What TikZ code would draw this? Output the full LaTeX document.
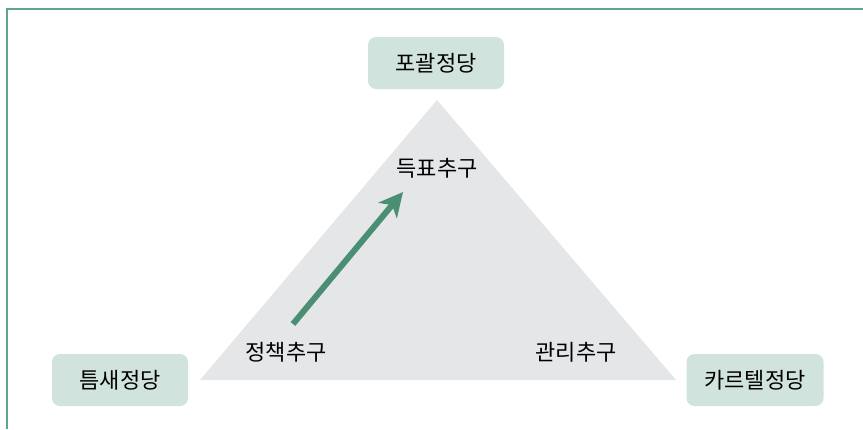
\documentclass[tikz,border=0pt]{standalone}
\usepackage{fontspec}
\setmainfont{Noto Sans CJK KR}
\usepackage{xcolor}
\usetikzlibrary{arrows.meta}

\definecolor{marco}{HTML}{5FA58A}
\definecolor{cajaverde}{HTML}{D1E3DD}
\definecolor{gristri}{HTML}{E5E6E8}
\definecolor{flecha}{HTML}{4A8E74}

\tikzset{
  partido/.style={fill=cajaverde, rounded corners=8pt, minimum width=136pt,
    minimum height=52pt, inner sep=0pt, font=\fontsize{22pt}{26pt}\selectfont},
  meta/.style={inner sep=0pt, font=\fontsize{22pt}{26pt}\selectfont}
}

\begin{document}
\begin{tikzpicture}[x=1pt,y=-1pt]
            \useasboundingbox (0,0) rectangle (863,429);

            % Dibuja el marco exterior
            \draw[marco, line width=2pt] (863,9) -- (7,9) -- (7,429);

            % Triangulo gris del fondo
            \fill[gristri] (437,100) -- (676,380) -- (200,380) -- cycle;

            % Cajas de los partidos en las esquinas
            \node[partido] (catchall) at (436,63) {포괄정당};
            \node[partido] (niche) at (120,380) {틈새정당};
            \node[partido, minimum width=137pt] (cartel) at (755,380) {카르텔정당};

            % Objetivos dentro del triangulo
            \node[meta] (votos) at (437,168) {득표추구};
            \node[meta] (politica) at (286,352) {정책추구};
            \node[meta] (gestion) at (576,352) {관리추구};

            % Flecha de politica a votos
            \coordinate (ini) at (293,324);
            \coordinate (fin) at (403,192);
            \draw[flecha, line width=6pt, -{Stealth[length=24pt,width=24pt,inset=7pt]}] (ini) -- (fin);
\end{tikzpicture}
\end{document}
